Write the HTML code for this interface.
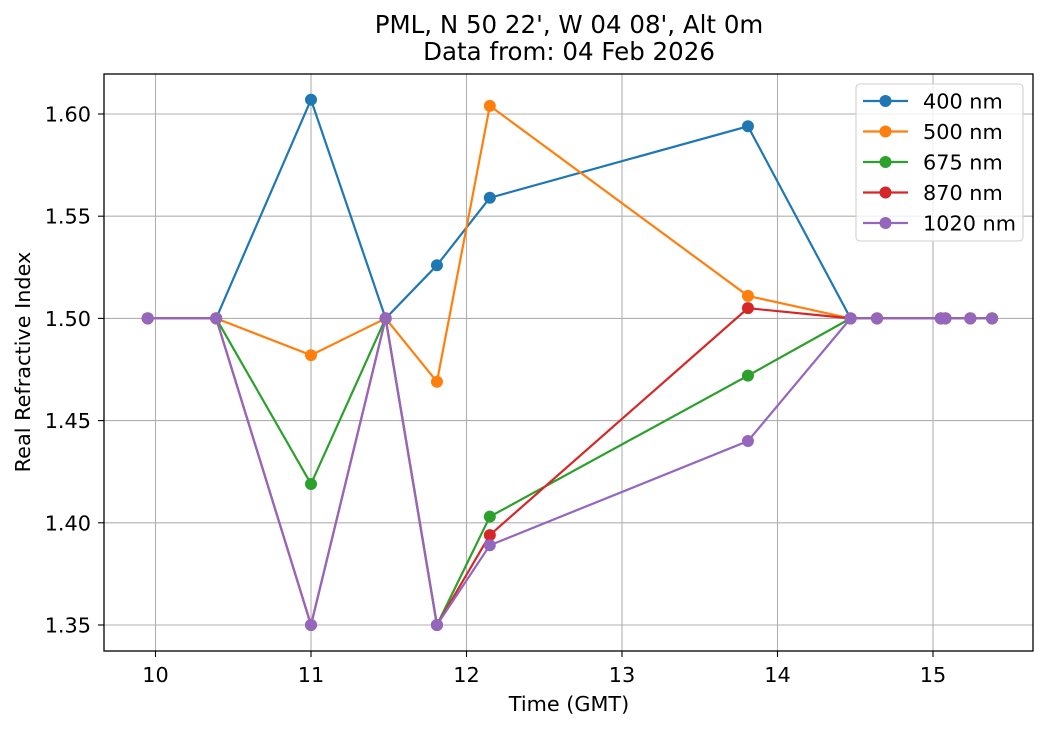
<!DOCTYPE html>
<html><head><meta charset="utf-8"><style>
body{margin:0;background:#fff;}
svg{display:block;font-family:"DejaVu Sans","Liberation Sans",sans-serif;}
</style></head><body>
<svg id="chart" width="1049" height="729" viewBox="0 0 1049 729">
<rect width="1049" height="729" fill="#fff"/>
<text x="569" y="33" text-anchor="middle" font-size="24.5">PML, N 50 22', W 04 08', Alt 0m</text>
<text x="569" y="60" text-anchor="middle" font-size="24.5">Data from: 04 Feb 2026</text>
<g id="grid"></g>
<g id="series"></g>
<rect x="104" y="74" width="929" height="577" fill="none" stroke="#000" stroke-width="1.3"/>
<g id="ticks"></g>
<text x="569" y="711" text-anchor="middle" font-size="20.8">Time (GMT)</text>
<text transform="translate(30,362) rotate(-90)" text-anchor="middle" font-size="20.8">Real Refractive Index</text>
<g id="legend"></g>
</svg>
<script>
const times=[9.95,10.39,11.0,11.48,11.81,12.15,13.81,14.47,14.64,15.05,15.08,15.24,15.38];
const v400=[1.5,1.5,1.607,1.5,1.526,1.559,1.594,1.5,1.5,1.5,1.5,1.5,1.5];
const v500=[1.5,1.5,1.482,1.5,1.469,1.604,1.511,1.5,1.5,1.5,1.5,1.5,1.5];
const v675=[1.5,1.5,1.419,1.5,1.35,1.403,1.472,1.5,1.5,1.5,1.5,1.5,1.5];
const v870=[1.5,1.5,1.35,1.5,1.35,1.394,1.505,1.5,1.5,1.5,1.5,1.5,1.5];
const v1020=[1.5,1.5,1.35,1.5,1.35,1.389,1.440,1.5,1.5,1.5,1.5,1.5,1.5];
const seriesLabels=["400 nm","500 nm","675 nm","870 nm","1020 nm"];
const xTicks=[10,11,12,13,14,15];
const yTicks=[1.35,1.40,1.45,1.50,1.55,1.60];
const yTickLabels=["1.35","1.40","1.45","1.50","1.55","1.60"];
const colors=["#1f77b4","#ff7f0e","#2ca02c","#d62728","#9467bd"];
const allSeries=[v400,v500,v675,v870,v1020];
const NS="http://www.w3.org/2000/svg";
function X(t){return 155.5+(t-10)*155.5;}
function Y(v){return 625-(v-1.35)*2044;}
function mk(tag,attrs,parent){const e=document.createElementNS(NS,tag);for(const k in attrs)e.setAttribute(k,attrs[k]);parent.appendChild(e);return e;}
const grid=document.getElementById('grid'),ticks=document.getElementById('ticks'),sg=document.getElementById('series'),lg=document.getElementById('legend');
xTicks.forEach(t=>{
 const l=mk('line',{x1:X(t),x2:X(t),y1:74,y2:651,stroke:'#b0b0b0','stroke-width':1.1},grid);
 
 
 mk('line',{x1:X(t),x2:X(t),y1:651,y2:657,stroke:'#000','stroke-width':1.1},ticks);
 const tx=mk('text',{x:X(t),y:682,'text-anchor':'middle','font-size':20.8},ticks);tx.textContent=t;
 
 
});
yTicks.forEach((v,i)=>{
 const l=mk('line',{x1:104,x2:1033,y1:Y(v),y2:Y(v),stroke:'#b0b0b0','stroke-width':1.1},grid);
 
 
 mk('line',{x1:98,x2:104,y1:Y(v),y2:Y(v),stroke:'#000','stroke-width':1.1},ticks);
 const tx=mk('text',{x:91,y:Y(v)+7.5,'text-anchor':'end','font-size':20.8},ticks);tx.textContent=yTickLabels[i];
 
 
});
allSeries.forEach((vals,s)=>{
 const g=mk('g',{},sg);
 
 
 mk('polyline',{points:vals.map((v,i)=>X(times[i])+','+Y(v)).join(' '),fill:'none',stroke:colors[s],'stroke-width':2.2},g);
 vals.forEach((v,i)=>{
  const c=mk('circle',{cx:X(times[i]),cy:Y(v),r:6,fill:colors[s]},g);
  
  
 });
});
const box=mk('rect',{x:856,y:84,width:167,height:157,rx:4,fill:'#fff','fill-opacity':0.8,stroke:'#d0d0d0','stroke-width':1.1},lg);


seriesLabels.forEach((lab,s)=>{
 const y=101+s*30.5;
 const g=mk('g',{},lg);
 
 
 mk('line',{x1:863,x2:908,y1:y,y2:y,stroke:colors[s],'stroke-width':2.2},g);
 mk('circle',{cx:885.5,cy:y,r:6,fill:colors[s]},g);
 const t=mk('text',{x:923,y:y+7.5,'font-size':20.8},g);t.textContent=lab;
});
</script>
</body></html>
